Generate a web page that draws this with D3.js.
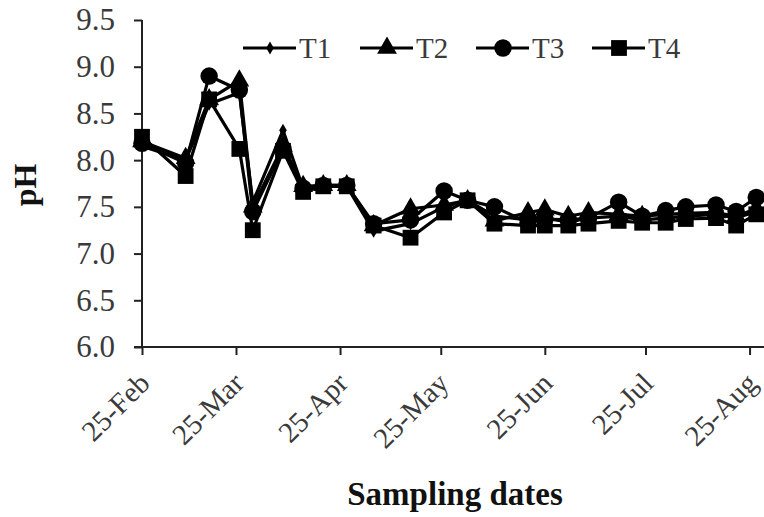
<!DOCTYPE html>
<html>
<head>
<meta charset="utf-8">
<script src="https://cdn.jsdelivr.net/npm/d3@7"></script>
<style>
  html, body { margin: 0; padding: 0; background: #fff; }
  svg { display: block; }
  text { font-family: "Liberation Serif", "Times New Roman", serif; }
</style>
</head>
<body>
<script>
// ---- data ----
const dates = ["2011-02-25","2011-03-10","2011-03-17","2011-03-26","2011-03-30","2011-04-08",
  "2011-04-14","2011-04-20","2011-04-27","2011-05-05","2011-05-16","2011-05-26","2011-06-02",
  "2011-06-10","2011-06-20","2011-06-25","2011-07-02","2011-07-08","2011-07-17","2011-07-24",
  "2011-07-31","2011-08-06","2011-08-15","2011-08-21","2011-08-27"];
const T1 = [8.15,8.00,8.60,8.72,7.55,8.32,7.70,7.73,7.72,7.24,7.32,7.50,7.57,7.40,7.36,7.38,7.34,7.38,7.40,7.36,7.38,7.40,7.42,7.38,7.45];
const T2 = [8.20,8.02,8.65,8.85,7.50,8.15,7.72,7.73,7.73,7.30,7.48,7.52,7.57,7.35,7.44,7.47,7.40,7.44,7.42,7.40,7.42,7.43,7.44,7.40,7.48];
const T3 = [8.18,7.97,8.90,8.75,7.45,8.12,7.70,7.73,7.73,7.32,7.36,7.67,7.57,7.50,7.33,7.37,7.36,7.38,7.55,7.40,7.46,7.50,7.52,7.45,7.60];
const T4 = [8.25,7.83,8.65,8.12,7.25,8.10,7.66,7.72,7.72,7.30,7.17,7.44,7.57,7.32,7.30,7.30,7.30,7.32,7.35,7.33,7.33,7.37,7.38,7.30,7.42];
const seriesNames = ["T1","T2","T3","T4"];
const yTicks = [6.0,6.5,7.0,7.5,8.0,8.5,9.0,9.5];
const xTickDates = ["2011-02-25","2011-03-25","2011-04-25","2011-05-25","2011-06-25","2011-07-25","2011-08-25"];
const xDomain = ["2011-02-25","2011-08-29"];

const W = 764, H = 517;
const parse = d3.timeParse("%Y-%m-%d");
const svg = d3.select("body").append("svg").attr("width", W).attr("height", H);

const x = d3.scaleTime().domain(xDomain.map(parse)).range([142, 763]);
const y = d3.scaleLinear().domain([6.0, 9.5]).range([347, 20]);

const series = [T1, T2, T3, T4].map((vals, i) => ({
  name: seriesNames[i],
  points: vals.map((v, j) => ({ d: parse(dates[j]), v }))
}));

const symbols = [
  d3.symbol().type(d3.symbolDiamond).size(50),
  d3.symbol().type(d3.symbolTriangle).size(170),
  d3.symbol().type(d3.symbolCircle).size(240),
  d3.symbol().type(d3.symbolSquare).size(250)
];

// axes
const yAxis = d3.axisLeft(y).tickValues(yTicks).tickSize(8).tickPadding(19)
  .tickFormat(d3.format(".1f"));
const gy = svg.append("g").attr("transform", "translate(142,0)").call(yAxis);
gy.select(".domain").attr("stroke", "#222").attr("stroke-width", 2).attr("d", "M0,20V347");
gy.selectAll(".tick line").attr("stroke", "#222").attr("stroke-width", 2);
gy.selectAll(".tick text").attr("font-size", 31).attr("fill", "#3a3a3a")
  .attr("font-family", "Liberation Serif, serif");

const xAxis = d3.axisBottom(x).tickValues(xTickDates.map(parse)).tickSize(8)
  .tickFormat(d3.timeFormat("%d-%b"));
const gx = svg.append("g").attr("transform", "translate(0,347)").call(xAxis);
gx.select(".domain").attr("stroke", "#222").attr("stroke-width", 2).attr("d", "M134,0H764");
gx.selectAll(".tick line").attr("stroke", "#222").attr("stroke-width", 2);
gx.selectAll(".tick text").attr("font-size", 29).attr("fill", "#3a3a3a")
  .attr("font-family", "Liberation Serif, serif")
  .attr("text-anchor", "end").attr("dy", null).attr("y", 0)
  .attr("transform", "translate(9,38) rotate(-45)");

// lines + markers
const line = d3.line().x(p => x(p.d)).y(p => y(p.v));
series.forEach((s, i) => {
  const g = svg.append("g");
  g.append("path").datum(s.points).attr("d", line)
    .attr("fill", "none").attr("stroke", "#000").attr("stroke-width", 3.2)
    .attr("stroke-linejoin", "round");
  g.selectAll("path.m").data(s.points).join("path").attr("class", "m")
    .attr("d", symbols[i])
    .attr("transform", p => `translate(${x(p.d)},${y(p.v)})`)
    .attr("fill", "#000");
});

// legend
const legX = [243, 360, 476, 592];
const legend = svg.append("g");
seriesNames.forEach((n, i) => {
  const g = legend.append("g").attr("transform", `translate(${legX[i]},48)`);
  g.append("line").attr("x1", 0).attr("x2", 53).attr("y1", 0).attr("y2", 0)
    .attr("stroke", "#000").attr("stroke-width", 3);
  g.append("path").attr("d", symbols[i]).attr("transform", "translate(27,0)").attr("fill", "#000");
  g.append("text").attr("x", 56).attr("y", 10).attr("font-size", 29).attr("fill", "#3a3a3a").text(n);
});

// titles
svg.append("text").attr("x", 455).attr("y", 505).attr("text-anchor", "middle")
  .attr("font-size", 33).attr("font-weight", "bold").attr("fill", "#111").text("Sampling dates");
svg.append("text").attr("transform", "translate(36,185) rotate(-90)").attr("text-anchor", "middle")
  .attr("font-size", 32).attr("font-weight", "bold").attr("fill", "#111").text("pH");
</script>
</body>
</html>
